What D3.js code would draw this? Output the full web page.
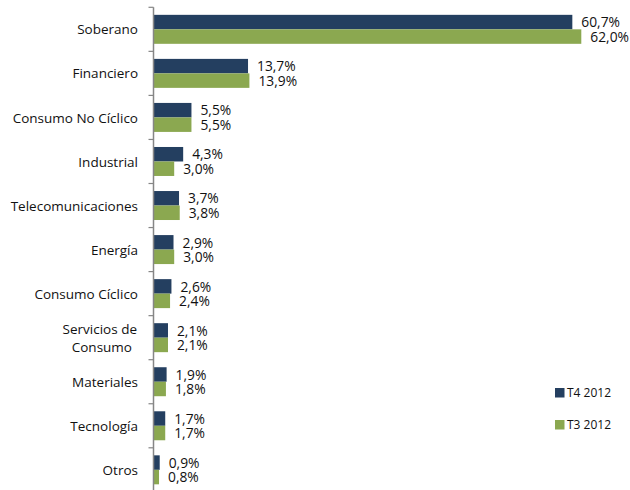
<!DOCTYPE html>
<html><head><meta charset="utf-8">
<script src="https://cdn.jsdelivr.net/npm/d3@7/dist/d3.min.js"></script>
<style>body{margin:0;background:#fff}svg{display:block}</style>
</head><body>
<script>
const categories = ["Soberano","Financiero","Consumo No Cíclico","Industrial","Telecomunicaciones","Energía","Consumo Cíclico","Servicios de Consumo","Materiales","Tecnología","Otros"];
const seriesNames = ["T4 2012","T3 2012"];
const t4Values = [60.7,13.7,5.5,4.3,3.7,2.9,2.6,2.1,1.9,1.7,0.9];
const t3Values = [62.0,13.9,5.5,3.0,3.8,3.0,2.4,2.1,1.8,1.7,0.8];
const colors = ["#243F60","#8BA850"];

const W = 630, H = 490;
const svg = d3.select("body").append("svg").attr("width", W).attr("height", H);
const font = "'Open Sans', sans-serif";

const axisX = 153.5;
const x = d3.scaleLinear().domain([0, 70]).range([axisX, axisX + 483]);
const y = d3.scaleBand().domain(categories).range([7.3, 7.3 + 11 * 44.05]).padding(0);
const y1 = d3.scaleBand().domain(seriesNames).range([0, y.bandwidth()]).paddingInner(0).paddingOuter(0.52);

const data = categories.map((c, i) => ({cat: c, vals: [t4Values[i], t3Values[i]]}));

const g = svg.append("g");
data.forEach(d => {
  d.vals.forEach((v, s) => {
    const yy = y(d.cat) + y1(seriesNames[s]);
    g.append("rect")
      .attr("x", x(0)).attr("y", yy)
      .attr("width", x(v) - x(0)).attr("height", y1.bandwidth())
      .attr("fill", colors[s]);
    g.append("text")
      .attr("x", x(v) + 9).attr("y", yy + y1.bandwidth() / 2 + 1.5)
      .attr("dominant-baseline", "middle")
      .attr("font-family", font).attr("font-size", 13.8).attr("fill", "#111")
      .text(v.toFixed(1).replace(".", ",") + "%");
  });
});

// axis line
svg.append("line").attr("x1", axisX).attr("x2", axisX).attr("y1", 7.3).attr("y2", H)
  .attr("stroke", "#868686").attr("stroke-width", 1.5);
// ticks at band boundaries
const boundaries = categories.map(c => y(c));
svg.selectAll(".tk").data(boundaries).enter().append("line")
  .attr("x1", axisX - 5).attr("x2", axisX).attr("y1", d => d).attr("y2", d => d)
  .attr("stroke", "#868686").attr("stroke-width", 1.2);

// category labels
categories.forEach(c => {
  const cy = y(c) + y.bandwidth() / 2 + 1.5;
  const t = svg.append("text").attr("x", 138).attr("text-anchor", "end")
    .attr("font-family", font).attr("font-size", 13.5).attr("fill", "#111");
  if (c === "Servicios de Consumo") {
    t.append("tspan").attr("x", 137).attr("y", cy - 9).attr("dominant-baseline", "middle").text("Servicios de");
    t.append("tspan").attr("x", 132).attr("y", cy + 9).attr("dominant-baseline", "middle").text("Consumo");
  } else {
    t.attr("y", cy).attr("dominant-baseline", "middle").text(c);
  }
});

// legend
const lg = svg.append("g");
seriesNames.forEach((s, i) => {
  const ly = 388 + i * 32;
  lg.append("rect").attr("x", 555).attr("y", ly).attr("width", 9.5).attr("height", 9.5).attr("fill", colors[i]);
  lg.append("text").attr("x", 567).attr("y", ly + 5.5).attr("dominant-baseline", "middle")
    .attr("font-family", font).attr("font-size", 12).attr("fill", "#111").text(s);
});
</script>
</body></html>
